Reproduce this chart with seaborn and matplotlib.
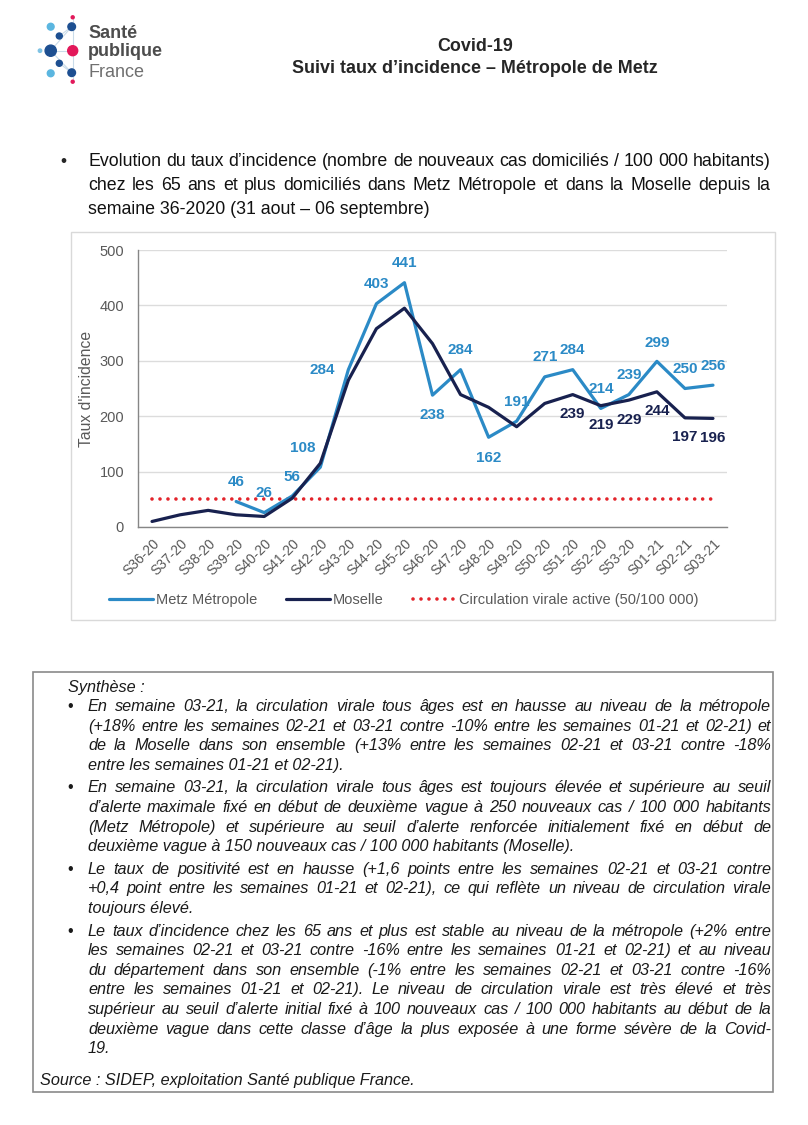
import matplotlib
matplotlib.use("Agg")
import numpy as np
import pandas as pd
import seaborn as sns
import matplotlib.pyplot as plt
from matplotlib.lines import Line2D
from matplotlib.patches import Rectangle, Circle

# données
weeks = ["S36-20", "S37-20", "S38-20", "S39-20", "S40-20", "S41-20", "S42-20",
         "S43-20", "S44-20", "S45-20", "S46-20", "S47-20", "S48-20", "S49-20",
         "S50-20", "S51-20", "S52-20", "S53-20", "S01-21", "S02-21", "S03-21"]
metz = [np.nan, np.nan, np.nan, 46, 26, 56, 108, 284, 403, 441, 238, 284, 162,
        191, 271, 284, 214, 239, 299, 250, 256]
moselle = [10, 22, 30, 22, 19, 52, 115, 265, 358, 395, 331, 239, 216, 181, 223,
           239, 219, 229, 244, 197, 196]
seuil = [50] * len(weeks)
moselle_labelled = ["S51-20", "S52-20", "S53-20", "S01-21", "S02-21", "S03-21"]

# label offsets (points) for the Metz values
metz_off = [None, None, None, (0, 14), (0, 14), (0, 14), (-13, 14), (-19, 0),
            (0, 14), (0, 14), (0, -14), (0, 14), (0, -15), (0, 14), (0, 14),
            (0, 14), (0, 14), (0, 14), (0, 13), (0, 14), (0, 14)]

c_metz = "#2b8ac6"
c_mos = "#18214f"
c_red = "#e3242b"
grey = "#595959"

W, H = 808, 1125

sns.set_style("white")
plt.rcParams["font.family"] = ["Liberation Sans", "DejaVu Sans"]

fig = plt.figure(figsize=(W / 100, H / 100), dpi=100)

# background layer in pixel coordinates
bg = fig.add_axes([0, 0, 1, 1], zorder=0)
bg.set_xlim(0, W)
bg.set_ylim(H, 0)
bg.axis("off")

# logo
logo_lines = [((50.7, 50.7), (72.7, 50.7)), ((50.7, 50.7), (71.7, 26.7)),
              ((50.7, 50.7), (71.7, 72.7)), ((59.3, 36), (71.7, 26.7)),
              ((59.3, 63.3), (71.7, 72.7)), ((72.7, 17.3), (72.7, 81.7))]
for a, b in logo_lines:
    bg.plot([a[0], b[0]], [a[1], b[1]], color="#c9dbe9", lw=0.8, zorder=1)
dots = [(72.7, 17.3, 1.5, "#e2185a"), (71.7, 26.7, 3.8, "#1d4f91"),
        (50.7, 26.7, 3.4, "#5bb6e0"), (59.3, 36, 3.0, "#1d4f91"),
        (50.7, 50.7, 5.6, "#1d4f91"), (40, 50.7, 1.7, "#7fc3e4"),
        (72.7, 50.7, 5.0, "#e2185a"), (59.3, 63.3, 3.0, "#1d4f91"),
        (50.7, 73.3, 3.4, "#5bb6e0"), (71.7, 72.7, 3.8, "#1d4f91"),
        (72.7, 81.7, 1.5, "#e2185a")]
for x, y, r, c in dots:
    bg.add_patch(Circle((x, y), r, color=c, zorder=2))
bg.text(88, 38, "Santé", fontsize=13, fontweight="bold", color="#4d4d4d")
bg.text(88, 56, "publique", fontsize=13, fontweight="bold", color="#4d4d4d")
bg.text(88, 77, "France", fontsize=13, color="#707070")

# title
bg.text(475, 51, "Covid-19", fontsize=12.9, fontweight="bold", ha="center")
bg.text(475, 73, "Suivi taux d’incidence – Métropole de Metz", fontsize=12.9,
        fontweight="bold", ha="center")

renderer = fig.canvas.get_renderer()


def line_text(x0, x1, y, s, justify, **kw):
    if not justify:
        bg.text(x0, y, s, va="baseline", **kw)
        return
    words = s.split(" ")
    widths = []
    for w in words:
        t = bg.text(0, 0, w, **kw)
        widths.append(t.get_window_extent(renderer).width)
        t.remove()
    gap = max((x1 - x0 - sum(widths)) / (len(words) - 1), 2)
    x = x0
    for w, wd in zip(words, widths):
        bg.text(x, y, w, va="baseline", **kw)
        x += wd + gap


# intro bullet
intro = ["Evolution du taux d’incidence (nombre de nouveaux cas domiciliés / 100 000 habitants)",
         "chez les 65 ans et plus domiciliés dans Metz Métropole et dans la Moselle depuis la",
         "semaine 36-2020 (31 aout – 06 septembre)"]
bg.text(60, 166, "•", fontsize=12.5, va="baseline")
for i, s in enumerate(intro):
    line_text(88, 771, 166 + 24 * i, s, i < len(intro) - 1, fontsize=12.8, color="#111111")

# chart frame
bg.add_patch(Rectangle((71, 232), 704, 388, fill=False, ec="#d9d9d9", lw=1))

# chart
ax = fig.add_axes([138 / W, 1 - 527 / H, (727 - 138) / W, (527 - 250) / H], zorder=2)
ax.set_facecolor("none")
pos = np.arange(len(weeks))
df = pd.DataFrame({
    "pos": np.concatenate([pos, pos]),
    "taux": metz + moselle,
    "zone": ["Metz Métropole"] * len(weeks) + ["Moselle"] * len(weeks),
})
sns.lineplot(data=df.dropna(), x="pos", y="taux", hue="zone",
             palette={"Metz Métropole": c_metz, "Moselle": c_mos},
             linewidth=2.3, legend=False, ax=ax)
ax.plot(pos, seuil, color=c_red, lw=2.6, ls=(0, (0.01, 2.2)),
        dash_capstyle="round", zorder=1)

for i, (v, off) in enumerate(zip(metz, metz_off)):
    if np.isnan(v):
        continue
    ax.annotate(f"{v:.0f}", (i, v), xytext=off, textcoords="offset points",
                ha="center", va="center", color=c_metz, fontsize=11,
                fontweight="bold")
for i, v in enumerate(moselle):
    if weeks[i] in moselle_labelled:
        ax.annotate(f"{v:.0f}", (i, v), xytext=(0, -14), textcoords="offset points",
                    ha="center", va="center", color=c_mos, fontsize=11,
                    fontweight="bold")

ax.set_xlim(-0.5, len(weeks) - 0.5)
ax.set_ylim(0, 500)
ax.set_yticks(range(0, 501, 100))
ax.yaxis.grid(True, color="#dcdcdc", lw=1)
ax.set_axisbelow(True)
ax.set_xticks(np.arange(-0.5, len(weeks), 1))
ax.set_xticklabels([])
ax.set_xticks(pos, minor=True)
ax.set_xticklabels(weeks, minor=True, rotation=45, ha="right",
                   rotation_mode="anchor", fontsize=10, color=grey)
ax.tick_params(axis="x", which="major", direction="out", length=4, color="#868686")
ax.tick_params(axis="x", which="minor", length=0, pad=7)
ax.tick_params(axis="y", direction="out", length=4, color="#868686",
               labelsize=10.5, labelcolor=grey, pad=6)
ax.set_xlabel("")
ax.set_ylabel("Taux d'incidence", fontsize=11.3, color=grey, labelpad=4)
for s in ["top", "right"]:
    ax.spines[s].set_visible(False)
for s in ["left", "bottom"]:
    ax.spines[s].set_color("#868686")
    ax.spines[s].set_linewidth(1)

handles = [Line2D([], [], color=c_metz, lw=2.3),
           Line2D([], [], color=c_mos, lw=2.3),
           Line2D([], [], color=c_red, lw=2.6, ls=(0, (0.01, 2.2)), dash_capstyle="round")]
fig.legend(handles, ["Metz Métropole", "Moselle", "Circulation virale active (50/100 000)"],
           loc="center", bbox_to_anchor=(404 / W, 1 - 600 / H), ncol=3, frameon=False,
           fontsize=10.5, labelcolor=grey, handlelength=3, handletextpad=0.2,
           columnspacing=2.0)

# synthesis box
bg.add_patch(Rectangle((33, 672), 740, 420, fill=False, ec="#8a8a8a", lw=1.2))
box_kw = dict(fontsize=11.7, style="italic", color="#1a1a1a")
bg.text(68, 692, "Synthèse :", va="baseline", **box_kw)
paras = [
    ["En semaine 03-21, la circulation virale tous âges est en hausse au niveau de la métropole",
     "(+18% entre les semaines 02-21 et 03-21 contre -10% entre les semaines 01-21 et 02-21) et",
     "de la Moselle dans son ensemble (+13% entre les semaines 02-21 et 03-21 contre -18%",
     "entre les semaines 01-21 et 02-21)."],
    ["En semaine 03-21, la circulation virale tous âges est toujours élevée et supérieure au seuil",
     "d’alerte maximale fixé en début de deuxième vague à 250 nouveaux cas / 100 000 habitants",
     "(Metz Métropole) et supérieure au seuil d’alerte renforcée initialement fixé en début de",
     "deuxième vague à 150 nouveaux cas / 100 000 habitants (Moselle)."],
    ["Le taux de positivité est en hausse (+1,6 points entre les semaines 02-21 et 03-21 contre",
     "+0,4 point entre les semaines 01-21 et 02-21), ce qui reflète un niveau de circulation virale",
     "toujours élevé."],
    ["Le taux d’incidence chez les 65 ans et plus est stable au niveau de la métropole (+2% entre",
     "les semaines 02-21 et 03-21 contre -16% entre les semaines 01-21 et 02-21) et au niveau",
     "du département dans son ensemble (-1% entre les semaines 02-21 et 03-21 contre -16%",
     "entre les semaines 01-21 et 02-21). Le niveau de circulation virale est très élevé et très",
     "supérieur au seuil d’alerte initial fixé à 100 nouveaux cas / 100 000 habitants au début de la",
     "deuxième vague dans cette classe d’âge la plus exposée à une forme sévère de la Covid-",
     "19."],
]
y = 711
for p in paras:
    bg.text(67, y, "•", va="baseline", fontsize=11.7, color="#1a1a1a")
    for i, s in enumerate(p):
        line_text(88, 771, y, s, i < len(p) - 1, **box_kw)
        y += 19.6
    y += 3
bg.text(40, 1085, "Source : SIDEP, exploitation Santé publique France.", va="baseline", **box_kw)

fig.savefig("out.png", dpi=100, facecolor="white")
